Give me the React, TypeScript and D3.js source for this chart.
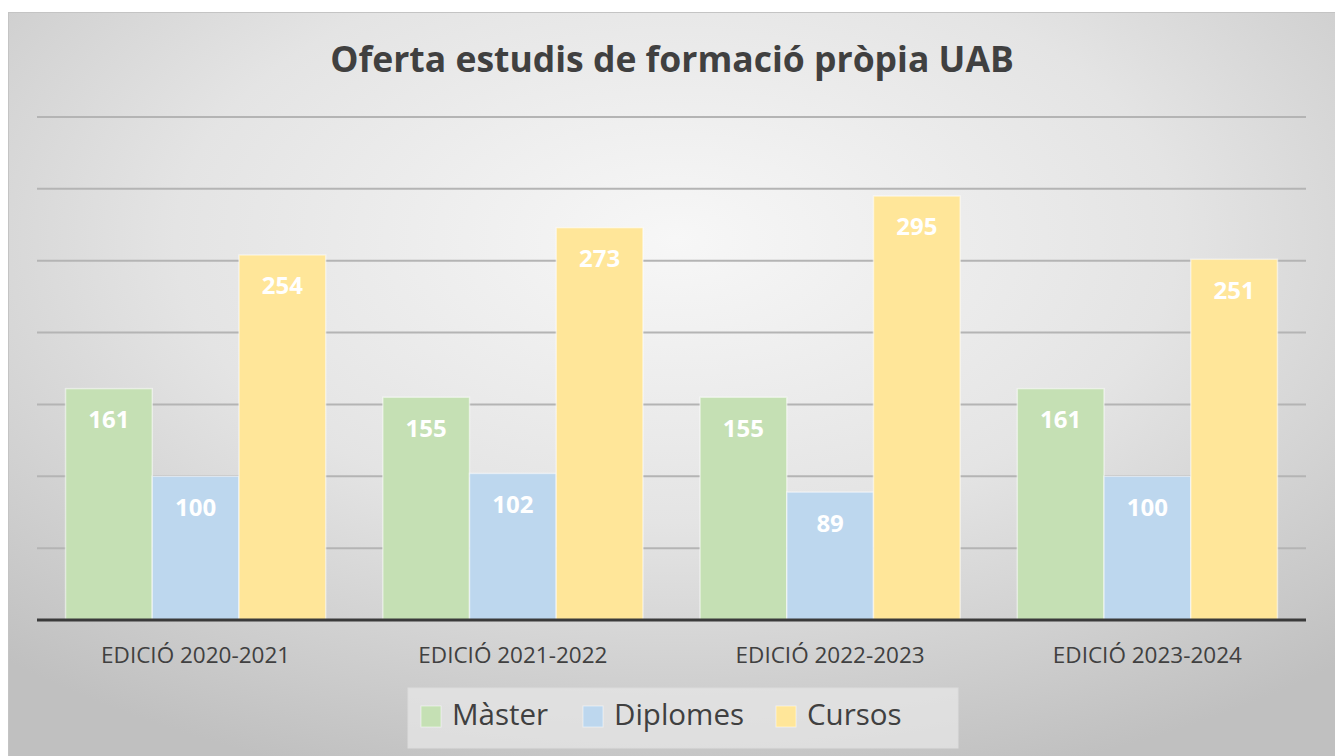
import * as d3 from "d3";

const categories = ["EDICIÓ 2020-2021", "EDICIÓ 2021-2022", "EDICIÓ 2022-2023", "EDICIÓ 2023-2024"];
const seriesNames = ["Màster", "Diplomes", "Cursos"];
const master = [161, 155, 155, 161];
const diplomes = [100, 102, 89, 100];
const cursos = [254, 273, 295, 251];
const gridTicks = [50, 100, 150, 200, 250, 300, 350];

const colors = ["#c5e0b4", "#bdd7ee", "#ffe699"];
const font = "'Open Sans', 'Noto Sans', sans-serif";

export default function App() {
  const width = 1335;
  const height = 756;
  const left = 37;
  const right = 1306;
  const top = 117;
  const bottom = 620;

  const values = [master, diplomes, cursos];

  const x0 = d3.scaleBand<string>().domain(categories).range([left, right]).paddingInner(0.18).paddingOuter(0.09);
  const x1 = d3.scaleBand<string>().domain(seriesNames).range([0, x0.bandwidth()]);
  const y = d3.scaleLinear().domain([0, 350]).range([bottom, top]);

  const legendX = [421, 583, 776];

  return (
    <svg width={width} height={height} style={{ position: "absolute", left: 0, top: 0 }}>
      <defs>
        <radialGradient id="bg" cx="0.5" cy="0.3" r="0.75">
          <stop offset="0" stopColor="#f7f7f7" />
          <stop offset="0.5" stopColor="#e4e4e4" />
          <stop offset="1" stopColor="#c0c0c0" />
        </radialGradient>
      </defs>
      <rect x={0} y={0} width={width} height={height} fill="#ffffff" />
      <rect x={8.5} y={12.5} width={width} height={height} fill="url(#bg)" stroke="#c4c4c4" />

      <text x={672} y={62} textAnchor="middle" dominantBaseline="middle" fontFamily={font} fontWeight="bold" fontSize={35.5} fill="#404040">
        Oferta estudis de formació pròpia UAB
      </text>

      {gridTicks.map((t) => (
        <line key={t} x1={left} x2={right} y1={y(t)} y2={y(t)} stroke="#b4b4b4" strokeWidth={2} />
      ))}

      {categories.map((c, ci) => (
        <g key={c} transform={`translate(${x0(c)},0)`}>
          {seriesNames.map((s, si) => {
            const v = values[si][ci];
            const bx = x1(s) ?? 0;
            return (
              <g key={s}>
                <rect
                  x={bx}
                  y={y(v)}
                  width={x1.bandwidth()}
                  height={bottom - y(v)}
                  fill={colors[si]}
                  stroke="#ffffff"
                  strokeOpacity={0.5}
                  strokeWidth={1.5}
                />
                <text
                  x={bx + x1.bandwidth() / 2}
                  y={y(v) + 33}
                  textAnchor="middle"
                  dominantBaseline="middle"
                  fontFamily={font}
                  fontWeight="bold"
                  fontSize={24}
                  fill="#ffffff"
                >
                  {v}
                </text>
              </g>
            );
          })}
        </g>
      ))}

      <line x1={left} x2={right} y1={bottom} y2={bottom} stroke="#3a3a3a" strokeWidth={3} />

      {categories.map((c) => (
        <text
          key={c}
          x={(x0(c) ?? 0) + x0.bandwidth() / 2}
          y={657}
          textAnchor="middle"
          dominantBaseline="middle"
          fontFamily={font}
          fontSize={22.5}
          fill="#404040"
        >
          {c}
        </text>
      ))}

      <rect x={408} y={688} width={550} height={60} fill="#e8e8e8" fillOpacity={0.7} stroke="#dcdcdc" />
      {seriesNames.map((s, i) => (
        <g key={s}>
          <rect x={legendX[i]} y={706} width={20} height={21} fill={colors[i]} stroke="#ffffff" strokeOpacity={0.5} />
          <text x={legendX[i] + 31} y={717} dominantBaseline="middle" fontFamily={font} fontSize={29.5} fill="#404040">
            {s}
          </text>
        </g>
      ))}
    </svg>
  );
}
